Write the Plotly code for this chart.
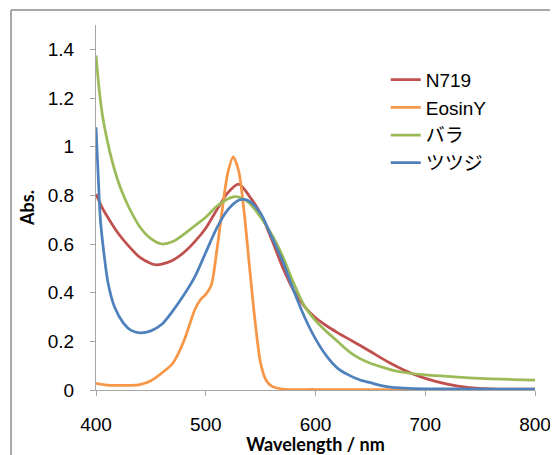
import plotly.graph_objects as go

# N719
n719_x = [400, 405, 410, 420, 430, 440, 450, 455, 460, 470, 480, 490, 500, 510, 520, 530, 540, 550, 560, 570, 580, 590, 600, 610, 620, 630, 640, 650, 660, 670, 680, 690, 700, 720, 740, 760, 780, 800]
n719_y = [0.805, 0.755, 0.715, 0.645, 0.59, 0.545, 0.52, 0.514, 0.517, 0.533, 0.565, 0.61, 0.665, 0.74, 0.81, 0.846, 0.795, 0.725, 0.62, 0.505, 0.41, 0.343, 0.297, 0.264, 0.236, 0.21, 0.185, 0.158, 0.131, 0.106, 0.083, 0.064, 0.048, 0.024, 0.01, 0.005, 0.004, 0.004]

# EosinY
eosin_x = [400, 410, 420, 430, 440, 450, 460, 470, 480, 485, 490, 495, 500, 505, 510, 515, 520, 525, 530, 535, 540, 545, 550, 555, 560, 570, 600, 700, 800]
eosin_y = [0.027, 0.02, 0.019, 0.019, 0.022, 0.038, 0.07, 0.11, 0.2, 0.265, 0.33, 0.37, 0.393, 0.43, 0.57, 0.74, 0.89, 0.958, 0.9, 0.73, 0.5, 0.28, 0.11, 0.04, 0.016, 0.004, 0.002, 0.001, 0.0]

# バラ
rose_x = [400, 403, 406, 410, 415, 420, 425, 430, 440, 450, 460, 470, 480, 490, 500, 510, 520, 525, 530, 540, 550, 560, 570, 580, 590, 600, 610, 620, 630, 640, 650, 660, 670, 680, 700, 720, 740, 760, 780, 800]
rose_y = [1.375, 1.23, 1.125, 1.03, 0.935, 0.86, 0.80, 0.75, 0.67, 0.622, 0.60, 0.61, 0.64, 0.675, 0.71, 0.755, 0.785, 0.794, 0.793, 0.767, 0.71, 0.64, 0.55, 0.44, 0.345, 0.285, 0.24, 0.20, 0.16, 0.13, 0.11, 0.095, 0.082, 0.073, 0.062, 0.056, 0.05, 0.046, 0.043, 0.041]

# ツツジ
azalea_x = [400, 402, 404, 407, 411, 417, 425, 432, 440, 450, 460, 470, 480, 490, 500, 510, 520, 530, 535, 540, 550, 560, 570, 580, 590, 600, 610, 620, 630, 640, 650, 660, 670, 680, 700, 750, 800]
azalea_y = [1.08, 0.88, 0.70, 0.57, 0.44, 0.34, 0.275, 0.245, 0.235, 0.243, 0.27, 0.325, 0.39, 0.465, 0.565, 0.665, 0.74, 0.78, 0.783, 0.775, 0.725, 0.63, 0.53, 0.41, 0.30, 0.21, 0.14, 0.09, 0.062, 0.042, 0.03, 0.018, 0.011, 0.008, 0.005, 0.004, 0.004]

names = ["N719", "EosinY", "バラ", "ツツジ"]
colors = ["#C0504D", "#F79646", "#9BBB59", "#4F81BD"]
xs = [n719_x, eosin_x, rose_x, azalea_x]
ys = [n719_y, eosin_y, rose_y, azalea_y]

x_ticks = [400, 500, 600, 700, 800]
y_ticks = [0, 0.2, 0.4, 0.6, 0.8, 1.0, 1.2, 1.4]
y_tick_text = ["0", "0.2", "0.4", "0.6", "0.8", "1", "1.2", "1.4"]

fig = go.Figure()
for n, c, x, y in zip(names, colors, xs, ys):
    fig.add_trace(go.Scatter(x=x, y=y, name=n, mode="lines",
                             line=dict(color=c, width=2.75, shape="spline", smoothing=0.8)))

font_main = "Liberation Sans, Arial, Noto Sans CJK JP, sans-serif"
fig.update_layout(
    width=550, height=447,
    margin=dict(l=88, r=23, t=17, b=65, autoexpand=False),
    paper_bgcolor="white", plot_bgcolor="white",
    font=dict(family=font_main, size=19, color="black"),
    showlegend=True,
    legend=dict(x=0.66, y=0.902, xanchor="left", yanchor="top",
                font=dict(family=font_main, size=19, color="black"),
                bgcolor="rgba(0,0,0,0)", itemwidth=30, tracegroupgap=0),
    xaxis=dict(range=[400, 800], tickvals=x_ticks, showgrid=False, zeroline=False,
               automargin=False,
               showline=True, linecolor="#A6A6A6", linewidth=1,
               ticks="outside", ticklen=5, tickcolor="#A6A6A6",
               ticklabelstandoff=12,
               title=dict(text="<b>Wavelength / nm</b>", standoff=2,
                          font=dict(family="Lato, Open Sans, sans-serif", size=18))),
    yaxis=dict(range=[0, 1.5], tickvals=y_ticks, ticktext=y_tick_text, showgrid=False,
               automargin=False,
               zeroline=False, showline=True, linecolor="#A6A6A6", linewidth=1,
               ticks="outside", ticklen=5, tickcolor="#A6A6A6",
               ticklabelstandoff=12,
               title=dict(text="<b>Abs.</b>", standoff=8,
                          font=dict(family="Lato, Open Sans, sans-serif", size=18))),
)

# outer chart frame (top and left visible)
fig.add_shape(type="line", xref="paper", yref="paper", x0=-0.1936, x1=1.1, y0=1.0411, y1=1.0411,
              line=dict(color="#8C8C8C", width=1.5))
fig.add_shape(type="line", xref="paper", yref="paper", x0=-0.1936, x1=-0.1936, y0=1.0411, y1=-0.2,
              line=dict(color="#8C8C8C", width=1.5))

fig.write_html("out.html")
